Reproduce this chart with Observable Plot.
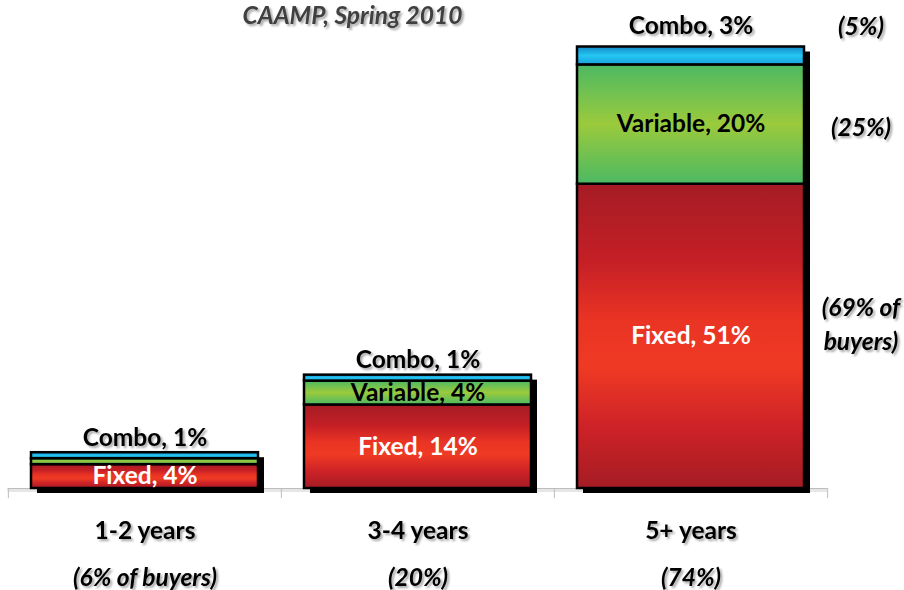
<!DOCTYPE html>
<html><head><meta charset="utf-8">
<script src="https://cdn.jsdelivr.net/npm/d3@7"></script>
<script src="https://cdn.jsdelivr.net/npm/@observablehq/plot@0.6"></script>
<style>
body{margin:0;background:#fff;}
#chart svg{overflow:visible;display:block;}
</style></head><body><div id="chart"></div>
<script>
const categories = ["1-2 years", "3-4 years", "5+ years"];
const buyerShares = ["(6% of buyers)", "(20%)", "(74%)"];
const types = ["Fixed", "Variable", "Combo"];
const fixed = [4, 14, 51];
const variable = [1, 4, 20];
const combo = [1, 1, 3];
const typeShares = ["(69% of\nbuyers)", "(25%)", "(5%)"];
const title = "CAAMP, Spring 2010";

const series = [fixed, variable, combo];
const rows = [];
categories.forEach((c, i) => {
  let base = 0;
  types.forEach((t, j) => {
    const v = series[j][i];
    rows.push({category: c, type: t, value: v, y1: base, y2: base + v, mid: base + v / 2, label: `${t}, ${v}%`, share: typeShares[j]});
    base += v;
  });
});
const totals = categories.map((c, i) => ({category: c, total: fixed[i] + variable[i] + combo[i], share: buyerShares[i]}));

const W = 904, H = 590;
const mL = 7.5, mR = 77, mT = 46.5, mB = 102;
const pIn = 0.167, pOut = 0.083;
const step = (W - mL - mR) / (categories.length - pIn + 2 * pOut);

const font = {fontFamily: "Lato", fontWeight: "bold", fontSize: 24.5};
const gradFill = {Fixed: "url(#gRed)", Variable: "url(#gGreen)", Combo: "url(#gBlue)"};
const last = categories[categories.length - 1];

const svg = Plot.plot({
  width: W, height: H,
  marginLeft: mL, marginRight: mR, marginTop: mT, marginBottom: mB,
  x: {domain: categories, paddingInner: pIn, paddingOuter: pOut, axis: null},
  y: {domain: [0, 74], axis: null},
  style: {background: "#fff"},
  marks: [
    Plot.ruleY([0], {stroke: "#e6e6e6", strokeWidth: 3, dy: 2}),
    Plot.ruleY([0], {stroke: "#bdbdbd", strokeWidth: 1}),
    Plot.ruleX(categories, {x: d => d, dx: -step / 2, y1: 0, y2: -1.7, stroke: "#bdbdbd"}),
    Plot.ruleX([last], {x: d => d, dx: step / 2, y1: 0, y2: -1.7, stroke: "#bdbdbd"}),
    Plot.barY(totals, {x: "category", y1: 0, y2: "total", fill: "#000", dx: 6, dy: 5}),
    ...types.map(t => Plot.barY(rows.filter(d => d.type === t), {
      x: "category", y1: "y1", y2: "y2", fill: gradFill[t], stroke: "#000", strokeWidth: 2.5
    })),
    // segment labels (no shadow)
    Plot.text(rows.filter(d => d.type === "Fixed"), {x: "category", y: "mid", text: "label", fill: "#fff", ...font}),
    Plot.text(rows.filter(d => d.type === "Variable" && d.category !== categories[0]), {x: "category", y: "mid", text: "label", fill: "#000", ...font}),
    // labels with drop shadow
    Plot.text(rows.filter(d => d.type === "Combo" && d.category !== last), {x: "category", y: "y2", text: "label", dy: -15, fill: "#000", ...font}),
    Plot.text(rows.filter(d => d.type === "Combo" && d.category === last), {x: "category", y: "y2", text: "label", dy: -21, fill: "#000", ...font}),
    Plot.text(rows.filter(d => d.category === last && d.type === "Fixed"), {x: "category", y: "mid", text: "share", dx: 170, dy: -14, lineHeight: 1.38, fill: "#000", ...font, fontStyle: "italic"}),
    Plot.text(rows.filter(d => d.category === last && d.type === "Variable"), {x: "category", y: "mid", text: "share", dx: 170, dy: 4, fill: "#000", ...font, fontStyle: "italic"}),
    Plot.text(rows.filter(d => d.category === last && d.type === "Combo"), {x: "category", y: "mid", text: "share", dx: 170, dy: -29, fill: "#000", ...font, fontStyle: "italic"}),
    Plot.text(totals, {x: "category", frameAnchor: "bottom", lineAnchor: "middle", text: "category", dy: 43, fill: "#000", ...font}),
    Plot.text(totals, {x: "category", frameAnchor: "bottom", lineAnchor: "middle", text: "share", dy: 90, fill: "#000", ...font, fontStyle: "italic"}),
    Plot.text([title], {frameAnchor: "top-left", lineAnchor: "middle", text: d => d, dx: 344.5, dy: -30.5, textAnchor: "middle", fill: "#404040", ...font, fontStyle: "italic"})
  ]
});

const defs = document.createElementNS("http://www.w3.org/2000/svg", "defs");
defs.innerHTML = `
<linearGradient id="gRed" x1="0" y1="0" x2="0" y2="1">
  <stop offset="0" stop-color="#a51c24"/>
  <stop offset="0.25" stop-color="#c41f26"/>
  <stop offset="0.45" stop-color="#ea3424"/>
  <stop offset="0.6" stop-color="#ef3a24"/>
  <stop offset="0.8" stop-color="#cd2227"/>
  <stop offset="1" stop-color="#a51c24"/>
</linearGradient>
<linearGradient id="gGreen" x1="0" y1="0" x2="0" y2="1">
  <stop offset="0" stop-color="#4cb963"/>
  <stop offset="0.5" stop-color="#9bca3c"/>
  <stop offset="1" stop-color="#4cb963"/>
</linearGradient>
<linearGradient id="gBlue" x1="0" y1="0" x2="0" y2="1">
  <stop offset="0" stop-color="#1488c8"/>
  <stop offset="0.5" stop-color="#24c6f2"/>
  <stop offset="1" stop-color="#1aa2dc"/>
</linearGradient>
<filter id="ts" x="-10%" y="-30%" width="130%" height="180%">
  <feDropShadow dx="2" dy="2" stdDeviation="1.3" flood-color="#000" flood-opacity="0.35"/>
</filter>`;
svg.insertBefore(defs, svg.firstChild);
const textGroups = svg.querySelectorAll('g[aria-label="text"]');
textGroups.forEach((g, i) => { if (i >= 2) g.setAttribute("filter", "url(#ts)"); });
document.getElementById("chart").appendChild(svg);
</script>
</body></html>
